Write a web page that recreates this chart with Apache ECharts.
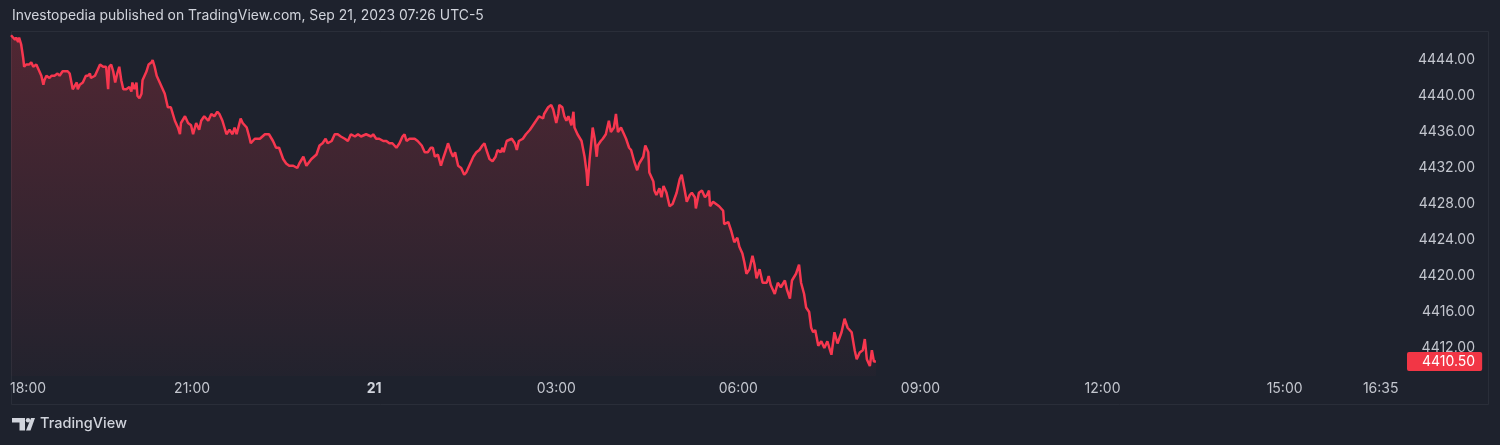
<!DOCTYPE html>
<html>
<head>
<meta charset="utf-8">
<script src="https://cdn.jsdelivr.net/npm/echarts@6/dist/echarts.min.js"></script>
<style>
  html, body { margin: 0; padding: 0; background: #1e222d; }
  #chart { width: 1500px; height: 445px; }
</style>
</head>
<body>
<div id="chart"></div>
<script>
// minutes after 18:00 (session start)
const times = [
  1,3,5,6,8,9,11,13,14,16,
  19,21,23,26,28,29,31,33,34,36,
  39,41,44,47,49,52,57,59,62,66,
  67,69,72,75,77,79,80,84,87,89,
  92,95,97,98,100,102,104,106,108,110,
  112,115,118,120,121,123,125,126,128,130,
  131,135,137,140,141,143,145,148,151,153,
  156,159,163,166,168,169,173,176,179,181,
  184,187,189,192,196,199,202,205,207,210,
  214,217,220,222,224,228,230,234,237,238,
  242,247,252,256,260,263,266,270,273,276,
  280,284,286,290,293,298,303,306,309,312,
  314,318,321,324,327,331,334,337,341,344,
  347,352,357,359,362,365,369,372,375,378,
  382,385,388,390,392,395,400,403,407,410,
  413,416,418,420,423,426,428,431,433,436,
  438,440,443,446,449,451,454,458,461,464,
  467,469,471,474,477,480,482,485,487,488,
  491,496,499,501,503,507,510,514,517,520,
  523,527,528,532,535,537,540,542,543,546,
  548,550,552,555,557,558,561,565,568,570,
  571,573,575,576,578,580,581,584,586,589,
  592,594,597,599,601,604,607,609,612,614,
  617,620,622,626,628,631,632,636,637,639,
  642,644,646,649,652,655,659,662,664,667,
  669,672,674,677,678,681,684,687,689,691,
  692,695,698,701,705,706,710,713,716,719,
  721,724,726,728,731,734,736,738,741,744,
  748,750,752,756,759,762,766,768,771,773,
  777,780,782,785,787,790,792,794,796,799,
  802,805,808,812,815,818,822,825,828,832,
  835,837,840,843,845,847,850,852,854,856
];
const prices = [
  4446.75,4446.5,4446.25,4446.5,4446,4446.5,4445.75,4444.25,4443.25,4443.5,
  4443.5,4443.75,4443.25,4443.5,4443,4443,4442.25,4441.25,4441.75,4442.25,
  4442,4442.25,4442.25,4442.5,4442.25,4442.75,4442.75,4442.5,4440.75,4441.5,
  4440.75,4441.25,4441.5,4442.25,4442.25,4442.5,4442,4442.25,4443,4443.5,
  4443.25,4443.25,4440.75,4443.25,4443.5,4442.75,4441.5,4442.5,4443.25,4441.75,
  4440.75,4440.75,4441,4440.5,4441.5,4440.75,4441.5,4440,4439.75,4440.25,
  4441.75,4442.75,4443.5,4443.75,4444,4443.25,4442.25,4441.5,4440.75,4440.25,
  4438.75,4438.75,4437.25,4436.5,4435.75,4437,4437.75,4437,4436.75,4435.75,
  4437,4436.25,4437.25,4437.75,4437.25,4438,4437.75,4438.25,4438,4437.25,
  4435.75,4436.25,4435.75,4436.5,4435.75,4437.5,4437,4436.5,4435.25,4434.75,
  4435.25,4435.25,4435.75,4435.75,4435,4434.25,4434.25,4433,4432.5,4432.25,
  4432.25,4432,4432.5,4433.25,4432.25,4433,4433.5,4434.5,4434.75,4435.25,
  4434.75,4435,4435.75,4435.75,4435.5,4435.25,4435,4435.75,4435.5,4435.75,
  4435.5,4435.75,4435.5,4435.75,4435.25,4435.25,4435,4435,4434.75,4434.75,
  4434.25,4434.75,4435.5,4435.75,4435,4435.25,4435.25,4435,4434.5,4433.75,
  4433.75,4434.25,4434.25,4433.25,4433.5,4432.25,4433,4434,4434.75,4433.75,
  4433.25,4433.75,4432.25,4432,4431.25,4431.5,4432.25,4433.25,4433.75,4434,
  4434.5,4434.75,4434,4433,4432.75,4433.25,4434,4433.75,4434.25,4433.75,
  4435,4435.25,4434.75,4434,4435,4435.25,4435.75,4436.25,4436.75,4437.25,
  4437.75,4437.5,4438,4438.75,4439,4438.5,4437,4438,4439,4438.75,
  4437.75,4437.25,4437.75,4436.75,4438.25,4436.5,4435.75,4435,4433.25,4431.5,
  4430,4433,4435.25,4436.5,4435.25,4433.25,4434.5,4435,4435.25,4435.75,
  4437.25,4436,4436.5,4438,4436,4436.5,4435.75,4435.25,4434.25,4434,
  4432.75,4431.75,4432.5,4433.25,4434.5,4433.75,4431.5,4430.5,4429.5,4429,
  4429.75,4428.75,4430,4429.25,4427.75,4428,4429.25,4430.75,4431.25,4429.5,
  4428.25,4429,4429.25,4428.75,4427.5,4429.25,4429.5,4428.75,4429,4429.5,
  4427.75,4428.25,4428,4427.75,4427.25,4425.75,4426,4425,4423.75,4424.25,
  4423.25,4422.5,4421.5,4420.25,4420.75,4422.25,4421.25,4419.75,4420.75,4419.25,
  4419.25,4420,4419,4418,4419.25,4418.75,4419.5,4418.5,4417.5,4419.5,
  4420.25,4421.25,4419.25,4418,4416.5,4416,4414.25,4413.75,4414,4412.25,
  4412.75,4412,4412.75,4411.25,4413.75,4412.5,4413.75,4415.25,4414.25,4413.75,
  4411.75,4410.75,4411.5,4411.75,4413,4410.75,4410,4411.75,4410.5,4410.5
];
const priceTicks = [4412, 4416, 4420, 4424, 4428, 4432, 4436, 4440, 4444];
const timeTicks  = [0, 180, 360, 540, 720, 900, 1080, 1260, 1355];
const timeLabels = ['18:00', '21:00', '21', '03:00', '06:00', '09:00', '12:00', '15:00', '16:35'];
const boldLabels = ['21'];
const titleText = 'Investopedia published on TradingView.com, Sep 21, 2023 07:26 UTC-5';

const seriesData = times.map((t, i) => [t, prices[i]]);
const lastPrice = prices[prices.length - 1];

const FONT = 'Inter, "Noto Sans", sans-serif';
const chart = echarts.init(document.getElementById('chart'), null, { renderer: 'canvas' });
chart.setOption({
  backgroundColor: '#1e222d',
  animation: false,
  textStyle: { fontFamily: FONT },
  grid: { left: 10, right: 94, top: 31, bottom: 69, containLabel: false },
  title: {
    text: titleText, left: 12, top: 9, padding: 0,
    textStyle: { color: '#d1d4dc', fontSize: 13.9, fontWeight: 'normal', fontFamily: FONT }
  },
  xAxis: {
    type: 'value', min: 0, max: 1380,
    axisLine: { show: false }, axisTick: { show: false }, splitLine: { show: false },
    axisLabel: {
      customValues: timeTicks,
      alignMinLabel: 'left',
      color: '#c3c6ce', fontSize: 14, margin: 6, fontFamily: FONT,
      formatter: function (v) {
        const i = timeTicks.indexOf(v);
        if (i < 0) return '';
        const s = timeLabels[i];
        return boldLabels.indexOf(s) >= 0 ? '{b|' + s + '}' : s;
      },
      rich: { b: { fontWeight: 'bold', color: '#d1d4dc', fontSize: 14, fontFamily: FONT } }
    }
  },
  yAxis: {
    type: 'value', position: 'right',
    min: 4444 - 316 / 9, max: 4444 + 29 / 9,
    axisLine: { show: false }, axisTick: { show: false }, splitLine: { show: false },
    axisLabel: {
      customValues: priceTicks,
      align: 'right', margin: 69,
      color: '#c3c6ce', fontSize: 14, fontFamily: FONT,
      formatter: v => v.toFixed(2)
    }
  },
  series: [{
    type: 'line',
    data: seriesData,
    showSymbol: false,
    symbol: 'none',
    clip: false,
    lineStyle: { color: '#f7374f', width: 2.5 },
    areaStyle: {
      color: new echarts.graphic.LinearGradient(0, 0, 0, 1, [
        { offset: 0, color: 'rgba(242,54,69,0.34)' },
        { offset: 1, color: 'rgba(242,54,69,0.03)' }
      ])
    },
    markLine: {
      silent: true, symbol: ['none', 'none'], animation: false,
      lineStyle: { color: 'rgba(0,0,0,0)', type: 'solid', width: 1 },
      label: {
        show: true,
        position: 'end', distance: 1,
        formatter: () => lastPrice.toFixed(2),
        backgroundColor: '#f23645', color: '#ffffff',
        fontSize: 14, fontFamily: FONT,
        padding: [3, 7, 2, 15], borderRadius: 2
      },
      data: [{ yAxis: lastPrice }]
    }
  }],
  graphic: [
    { type: 'rect', silent: true, z: -1,
      shape: { x: 11.5, y: 31.5, width: 1477, height: 373 },
      style: { fill: 'none', stroke: '#2a2e39', lineWidth: 1 } },
    { type: 'group', silent: true, children: [
      { type: 'rect', shape: { x: 12, y: 418, width: 13, height: 4.5 }, style: { fill: '#d1d4dc' } },
      { type: 'rect', shape: { x: 19.5, y: 418, width: 5.5, height: 12.5 }, style: { fill: '#d1d4dc' } },
      { type: 'circle', shape: { cx: 28, cy: 420.3, r: 2.2 }, style: { fill: '#d1d4dc' } },
      { type: 'polygon', shape: { points: [[31, 418], [35, 418], [30.5, 430.5], [26, 430.5]] }, style: { fill: '#d1d4dc' } }
    ]},
    { type: 'text', silent: true, left: 40, top: 416.5,
      style: { text: 'TradingView', fill: '#d1d4dc', font: '500 14.5px ' + FONT } }
  ]
});
</script>
</body>
</html>
